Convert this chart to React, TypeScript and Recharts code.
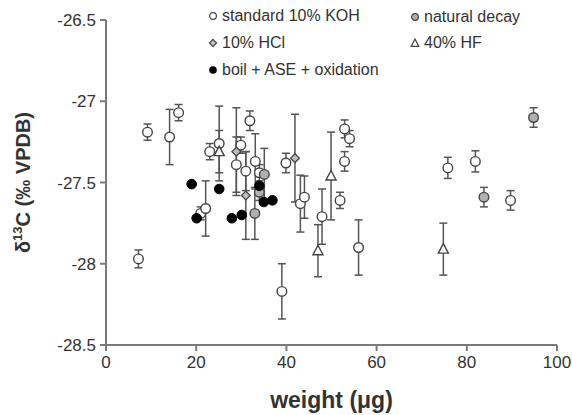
import { ErrorBar, Scatter, ScatterChart, XAxis, YAxis } from 'recharts'

// standard 10% KOH
const kohWeight = [7.2, 9.2, 14.1, 16.1, 21.0, 22.1, 23.0, 25.1, 28.9, 29.9, 31.9, 31.0, 33.1, 34.0, 39.0, 39.9, 43.1, 44.0, 47.9, 51.9, 52.9, 54.0, 52.9, 56.0, 75.8, 81.9, 89.7]
const kohDelta = [-27.97, -27.19, -27.22, -27.07, -27.69, -27.66, -27.31, -27.26, -27.39, -27.27, -27.12, -27.43, -27.37, -27.44, -28.17, -27.38, -27.63, -27.59, -27.71, -27.61, -27.17, -27.23, -27.37, -27.9, -27.41, -27.37, -27.61]
const kohErr = [0.055, 0.05, 0.17, 0.05, 0.04, 0.17, 0.05, 0.23, 0.17, 0.05, 0.06, 0.12, 0.17, 0.05, 0.17, 0.06, 0.175, 0.13, 0.17, 0.05, 0.055, 0.05, 0.06, 0.17, 0.065, 0.065, 0.06]

// 10% HCl
const hclWeight = [28.9, 31.0, 41.9]
const hclDelta = [-27.31, -27.58, -27.35]
const hclErr = [0.27, 0.27, 0.27]

// 40% HF
const hfWeight = [25.1, 47.0, 49.9, 74.8]
const hfDelta = [-27.31, -27.92, -27.46, -27.91]
const hfErr = [0.13, 0.16, 0.27, 0.16]

// natural decay
const natWeight = [33.0, 34.0, 35.1, 83.8, 94.8]
const natDelta = [-27.69, -27.56, -27.45, -27.59, -27.1]
const natErr = [0.16, 0.05, 0.16, 0.06, 0.06]

// boil + ASE + oxidation
const boilWeight = [19.0, 20.1, 25.1, 27.9, 30.1, 34.0, 35.0, 36.9]
const boilDelta = [-27.51, -27.72, -27.54, -27.72, -27.7, -27.52, -27.62, -27.61]

const xTicks = [0, 20, 40, 60, 80, 100]
const yTicks = [-28.5, -28, -27.5, -27, -26.5]

const rows = (w: number[], d: number[], e?: number[]) =>
  w.map((x, i) => ({ w: x, d: d[i], e: e ? e[i] : 0 }))

const FONT = '"Liberation Sans", Arial, sans-serif'
const INK = '#333'
const AXIS = '#7a7a7a'

const openCircle = (p: any) => <circle cx={p.cx} cy={p.cy} r={4.8} fill="#fff" stroke="#444" strokeWidth={1.4} />
const greyCircle = (p: any) => <circle cx={p.cx} cy={p.cy} r={4.8} fill="#b0b0b0" stroke="#444" strokeWidth={1.4} />
const blackCircle = (p: any) => <circle cx={p.cx} cy={p.cy} r={4.8} fill="#000" stroke="#000" strokeWidth={1} />
const diamond = (p: any) => {
  const s = 4.4
  return <polygon points={`${p.cx},${p.cy - s} ${p.cx + s},${p.cy} ${p.cx},${p.cy + s} ${p.cx - s},${p.cy}`} fill="#bdbdbd" stroke="#444" strokeWidth={1.3} />
}
const triangle = (p: any) => (
  <polygon points={`${p.cx},${p.cy - 5.5} ${p.cx + 5},${p.cy + 4} ${p.cx - 5},${p.cy + 4}`} fill="#fff" stroke="#444" strokeWidth={1.4} />
)

function YLabel({ viewBox }: any) {
  const x = viewBox.x - 10
  const y = viewBox.y + viewBox.height / 2
  return (
    <text x={x} y={y} transform={`rotate(-90 ${x} ${y})`} textAnchor="middle" fontFamily={FONT} fontWeight="bold" fontSize={20} fill={INK}>
      <tspan>δ</tspan>
      <tspan dy={-8} fontSize={13}>13</tspan>
      <tspan dy={8}>C (‰ VPDB)</tspan>
    </text>
  )
}

function XLabel({ viewBox }: any) {
  return (
    <text x={viewBox.x + viewBox.width / 2} y={viewBox.y + 63} textAnchor="middle" fontFamily={FONT} fontWeight="bold" fontSize={23} fill={INK}>
      weight (μg)
    </text>
  )
}

function LegendItem({ x, y, kind, label }: { x: number; y: number; kind: string; label: string }) {
  let mark
  if (kind === 'open') mark = <circle cx={6} cy={6} r={3.4} fill="#fff" stroke="#444" strokeWidth={1.2} />
  else if (kind === 'grey') mark = <circle cx={6} cy={6} r={3.4} fill="#b0b0b0" stroke="#444" strokeWidth={1.2} />
  else if (kind === 'black') mark = <circle cx={6} cy={6} r={3.8} fill="#000" />
  else if (kind === 'diamond') mark = <polygon points="6,2.4 9.6,6 6,9.6 2.4,6" fill="#bdbdbd" stroke="#444" strokeWidth={1.2} />
  else mark = <polygon points="6,2 9.8,9.4 2.2,9.4" fill="#fff" stroke="#444" strokeWidth={1.2} />
  return (
    <div style={{ position: 'absolute', left: x - 6, top: y - 10, display: 'flex', alignItems: 'center', height: 20, whiteSpace: 'nowrap' }}>
      <svg width={12} height={12}>{mark}</svg>
      <span style={{ marginLeft: 3, fontFamily: FONT, fontSize: 16, color: INK }}>{label}</span>
    </div>
  )
}

export default function App() {
  return (
    <div style={{ position: 'absolute', left: 0, top: 0, width: 572, height: 415, background: '#fff' }}>
      <ScatterChart width={572} height={415} margin={{ top: 20, right: 15, bottom: 10, left: 40 }}>
        <XAxis
          type="number"
          dataKey="w"
          domain={[0, 100]}
          ticks={xTicks}
          height={60}
          tickSize={6}
          tickMargin={5}
          stroke={AXIS}
          strokeWidth={2}
          tick={{ fill: INK, fontSize: 17, fontFamily: FONT }}
          label={<XLabel />}
        />
        <YAxis
          type="number"
          dataKey="d"
          domain={[-28.5, -26.5]}
          ticks={yTicks}
          width={66}
          tickSize={6}
          tickMargin={4}
          stroke={AXIS}
          strokeWidth={2}
          tick={{ fill: INK, fontSize: 17, fontFamily: FONT }}
          label={<YLabel />}
        />
        <Scatter data={rows(kohWeight, kohDelta, kohErr)} shape={openCircle} isAnimationActive={false}>
          <ErrorBar dataKey="e" direction="y" width={4} stroke="#555" strokeWidth={1.5} />
        </Scatter>
        <Scatter data={rows(hclWeight, hclDelta, hclErr)} shape={diamond} isAnimationActive={false}>
          <ErrorBar dataKey="e" direction="y" width={4} stroke="#555" strokeWidth={1.5} />
        </Scatter>
        <Scatter data={rows(hfWeight, hfDelta, hfErr)} shape={triangle} isAnimationActive={false}>
          <ErrorBar dataKey="e" direction="y" width={4} stroke="#555" strokeWidth={1.5} />
        </Scatter>
        <Scatter data={rows(natWeight, natDelta, natErr)} shape={greyCircle} isAnimationActive={false}>
          <ErrorBar dataKey="e" direction="y" width={4} stroke="#555" strokeWidth={1.5} />
        </Scatter>
        <Scatter data={rows(boilWeight, boilDelta)} shape={blackCircle} isAnimationActive={false} />
      </ScatterChart>
      <LegendItem x={213} y={16} kind="open" label="standard 10% KOH" />
      <LegendItem x={415} y={17} kind="grey" label="natural decay" />
      <LegendItem x={213} y={43} kind="diamond" label="10% HCl" />
      <LegendItem x={415} y={43} kind="triangle" label="40% HF" />
      <LegendItem x={213} y={70} kind="black" label="boil + ASE + oxidation" />
    </div>
  )
}
